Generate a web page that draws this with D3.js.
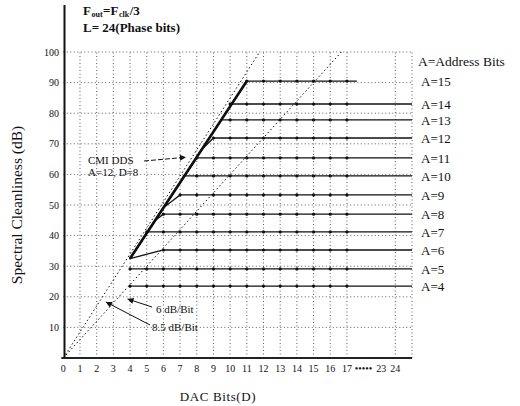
<!DOCTYPE html>
<html><head><meta charset="utf-8">
<script src="https://cdn.jsdelivr.net/npm/d3@7"></script>
<style>
body{margin:0;background:#fff}
text{font-family:"Liberation Serif","DejaVu Serif",serif;fill:#111}
</style>
</head><body>
<svg id="c" width="520" height="406"></svg>
<script>
// ---- data ----
const addressBits = [15,14,13,12,11,10,9,8,7,6,5,4];
const levels      = [90.5,83,77.8,71.9,65.4,59.5,53.3,47,41.2,35.3,29.1,23.5];
const kneeD       = [11,10,9.2,8.3,8,7.2,6,5.5,5,4,4,4];
const flatD       = [11,10,9.5,9,8,7.2,7,6,5,6,4,4];
const endD        = [17.6,20.9,20.9,20.9,20.9,20.9,20.9,20.9,20.9,20.9,20.9,20.9];
const bundleStartD = 4;
const bundleStartDb = 32.5;
const slopesDbPerBit = [8.5, 6];
const slopeLabels = ["8.5 dB/Bit", "6 dB/Bit"];
const xTickPos    = [0,1,2,3,4,5,6,7,8,9,10,11,12,13,14,15,16,17,18.0,19.05,19.9];
const xTickLabels = ["0","1","2","3","4","5","6","7","8","9","10","11","12","13","14","15","16","17","•••••","23","24"];
const yTicks = [10,20,30,40,50,60,70,80,90,100];
const yTickLabels = ["10","20","30","40","50","60","70","80","90","100"];
const xGrid = [1,2,3,4,5,6,7,8,9,10,11,12,13,14,15,16,17,19.9,20.9];
const headerParts = [["F",13,0],["out",8,1.5],["=F",13,0],["clk",8,1.5],["/3",13,0]];
const cmiPoint = {d: 7.35, db: 65.6};
const arrow6Tip = {d: 3.85, db: 19.3};
const arrow85Tip = {d: 2.55, db: 18.3};

// ---- scales ----
const svg = d3.select("#c");
const x = d3.scaleLinear().domain([0, 20.9]).range([63.3, 412]);
const y = d3.scaleLinear().domain([0, 100]).range([358, 52]);

const defs = svg.append("defs");
defs.append("marker").attr("id","ahb").attr("viewBox","0 0 10 10").attr("refX",10).attr("refY",5)
  .attr("markerWidth",11).attr("markerHeight",6).attr("orient","auto").attr("markerUnits","userSpaceOnUse")
  .append("path").attr("d","M0,0L10,5L0,10z").attr("fill","#111");

// ---- grid ----
const g = svg.append("g");
g.selectAll(".hg").data(yTicks).join("line")
  .attr("x1", x(0)).attr("x2", x(20.9)).attr("y1", d=>y(d)).attr("y2", d=>y(d))
  .attr("stroke","#333").attr("stroke-width",0.8).attr("stroke-dasharray","1,2.5");
g.selectAll(".vg").data(xGrid).join("line")
  .attr("x1", d=>x(d)).attr("x2", d=>x(d)).attr("y1", y(0)).attr("y2", y(100))
  .attr("stroke","#333").attr("stroke-width",0.8).attr("stroke-dasharray","1,2.5");

// ---- slope diagonals ----
g.selectAll(".diag").data(slopesDbPerBit).join("line")
  .attr("x1", x(0)).attr("y1", y(0))
  .attr("x2", s=>x(100/s)).attr("y2", y(100))
  .attr("stroke","#111").attr("stroke-width",1).attr("stroke-dasharray","1.5,2.5");

// ---- A lines ----
const slope = (levels[0]-bundleStartDb)/(flatD[0]-bundleStartD);
const bundleAt = d => bundleStartDb + slope*(d-bundleStartD);
const line = d3.line().x(p=>x(p[0])).y(p=>y(p[1]));
const series = addressBits.map((a,i)=>{
  let pts;
  if (levels[i] <= bundleStartDb) {
    pts = [[bundleStartD, levels[i]], [endD[i], levels[i]]];
  } else {
    pts = [[bundleStartD, bundleStartDb], [kneeD[i], Math.min(bundleAt(kneeD[i]), levels[i])],
           [flatD[i], levels[i]], [endD[i], levels[i]]];
  }
  const dots = d3.range(Math.ceil(flatD[i]), 18).map(d=>[d, levels[i]]);
  return {a, level: levels[i], pts, dots};
});
g.selectAll(".aline").data(series).join("path")
  .attr("d", s=>line(s.pts)).attr("fill","none")
  .attr("stroke","#111").attr("stroke-width",1.3);
g.append("path")
  .attr("d", line([[bundleStartD, bundleStartDb],[flatD[0], levels[0]]]))
  .attr("stroke","#111").attr("stroke-width",2.6).attr("fill","none");
g.selectAll(".dots").data(series.flatMap(s=>s.dots)).join("circle")
  .attr("cx", p=>x(p[0])).attr("cy", p=>y(p[1])).attr("r",1.6).attr("fill","#111");

// ---- axes ----
svg.append("line").attr("x1",64.5).attr("x2",64.5).attr("y1",5).attr("y2",y(0))
  .attr("stroke","#111").attr("stroke-width",2);
svg.append("line").attr("x1",x(0)-2).attr("x2",x(20.9)).attr("y1",y(0)).attr("y2",y(0))
  .attr("stroke","#222").attr("stroke-width",1.8);
svg.selectAll(".yl").data(yTicks).join("text")
  .attr("x", 59).attr("y", d=>y(d)+3.5).attr("text-anchor","end")
  .attr("font-size",10).text((d,i)=>yTickLabels[i]);
svg.selectAll(".xl").data(xTickPos).join("text")
  .attr("x", d=>x(d)).attr("y", 372).attr("text-anchor","middle")
  .attr("font-size",10).text((d,i)=>xTickLabels[i]);

svg.append("text").attr("transform","translate(22,205) rotate(-90)")
  .attr("text-anchor","middle").attr("font-size",15.5).text("Spectral Cleanliness (dB)");
svg.append("text").attr("x",218).attr("y",401).attr("text-anchor","middle")
  .attr("font-size",13).attr("letter-spacing",0.6).text("DAC Bits(D)");

// ---- header (separate text pieces laid out side by side) ----
let hx = 83;
headerParts.forEach(([t,fs,dy])=>{
  const el = svg.append("text").attr("x",hx).attr("y",15+dy).attr("font-size",fs)
    .attr("font-weight","bold").text(t);
  hx += el.node().getComputedTextLength() + 0.5;
});
svg.append("text").attr("x",83).attr("y",32).attr("font-size",13).attr("font-weight","bold")
  .text("L= 24(Phase bits)");

// ---- right labels ----
svg.append("text").attr("x",418).attr("y",66).attr("font-size",13.5).text("A=Address Bits");
svg.selectAll(".al").data(series).join("text")
  .attr("x",421).attr("y", s=>y(s.level)+5).attr("font-size",13).text(s=>"A="+s.a);

// ---- annotations ----
svg.append("text").attr("x",88).attr("y",164).attr("font-size",11).text("CMI DDS");
svg.append("text").attr("x",88).attr("y",176).attr("font-size",11).text("A=12, D=8");
svg.append("line").attr("x1",144).attr("y1",161).attr("x2",x(cmiPoint.d)).attr("y2",y(cmiPoint.db))
  .attr("stroke","#111").attr("stroke-width",1).attr("stroke-dasharray","5,2").attr("marker-end","url(#ahb)");

svg.append("text").attr("x",156).attr("y",313).attr("font-size",11).text(slopeLabels[1]);
svg.append("text").attr("x",152).attr("y",331).attr("font-size",11).text(slopeLabels[0]);
svg.append("line").attr("x1",152).attr("y1",307).attr("x2",x(arrow6Tip.d)).attr("y2",y(arrow6Tip.db))
  .attr("stroke","#111").attr("stroke-width",1).attr("marker-end","url(#ahb)");
svg.append("line").attr("x1",150).attr("y1",325).attr("x2",x(arrow85Tip.d)).attr("y2",y(arrow85Tip.db))
  .attr("stroke","#111").attr("stroke-width",1).attr("marker-end","url(#ahb)");
</script>
</body></html>
